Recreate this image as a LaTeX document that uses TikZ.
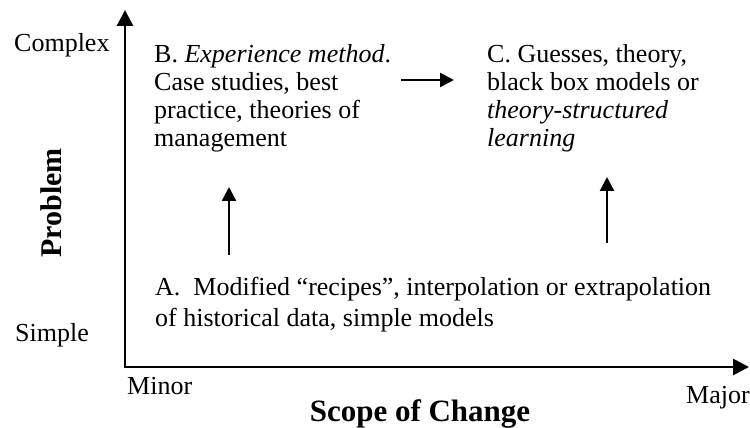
\documentclass[tikz,border=0pt]{standalone}
\usepackage{fontspec}
\setmainfont{Liberation Serif}
\usetikzlibrary{arrows.meta}
\begin{document}
\begin{tikzpicture}[x=1pt,y=1pt,
  txt/.style={inner sep=0pt, anchor=base west, align=left, font=\fontsize{26}{28}\selectfont},
  lbl/.style={inner sep=0pt, anchor=base west, font=\fontsize{26}{28}\selectfont},
  big/.style={inner sep=0pt, anchor=base, font=\fontsize{31}{34}\selectfont\bfseries},
  axis/.style={line width=2.7pt, -{Triangle[length=16pt,width=16pt]}},
  flow/.style={line width=2.3pt, -{Triangle[length=14pt,width=14pt]}}]
\useasboundingbox (0,0) rectangle (750,428);
% axes
\coordinate (origin) at (125,61);
\coordinate (ytop) at (125,418);
\coordinate (xend) at (749,61);
\draw[axis] ([yshift=-1.35pt]origin) -- (ytop);
\draw[axis] ([xshift=-1.35pt]origin) -- (xend);
% axis labels
\node[lbl] (complex) at (14,376) {Complex};
\node[lbl] (simple) at (15,86) {Simple};
\node[lbl] (minor) at (127,33) {Minor};
\node[lbl] (major) at (686,24) {Major};
\node[big] (scope) at (420,6) {Scope of Change};
\node[big, font=\fontsize{30}{32}\selectfont\bfseries, rotate=90] (problem) at (61,225) {Problem};
% text blocks (anchor = baseline of last line)
\node[txt] (B) at (154,281) {B. \textit{Experience method}.\\Case studies, best\\practice, theories of\\management};
\node[txt] (C) at (487,281) {C. Guesses, theory,\\black box models or\\\textit{theory-structured}\\\textit{learning}};
\node[txt, font=\fontsize{26}{31}\selectfont] (A) at (155,101) {A.\ \ Modified “recipes”, interpolation or extrapolation\\of historical data, simple models};
% connectors
\coordinate (bc1) at (401,348);
\coordinate (bc2) at (454,348);
\coordinate (ab1) at (229,173);
\coordinate (ab2) at (229,241);
\coordinate (ac1) at (607,185);
\coordinate (ac2) at (607,251);
\draw[flow] (bc1) -- (bc2);
\draw[flow] (ab1) -- (ab2);
\draw[flow] (ac1) -- (ac2);
\end{tikzpicture}
\end{document}
